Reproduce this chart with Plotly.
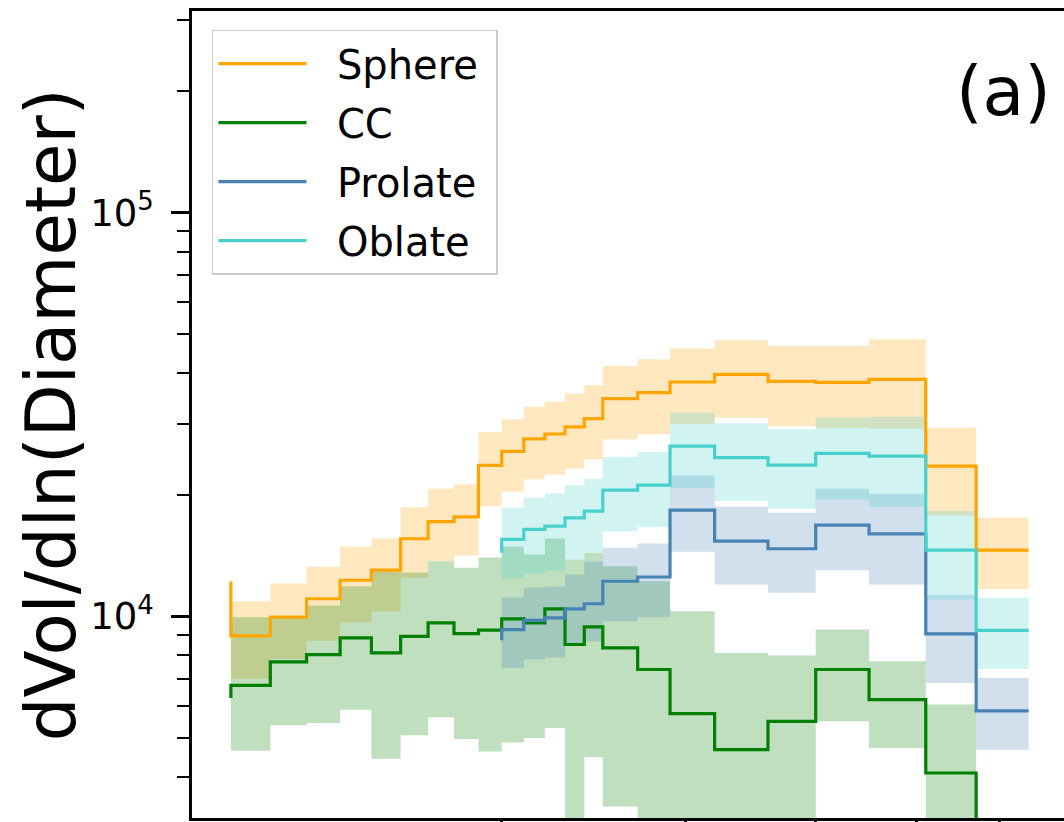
import plotly.graph_objects as go

# bin edges (diameter, log axis) - step 'pre' positions
x_edges = [1.1, 1.2, 1.3, 1.4, 1.5, 1.6, 1.7, 1.8, 1.9, 2.0, 2.1, 2.2, 2.3, 2.4, 2.5,
           2.7, 2.9, 3.2, 3.6, 4.0, 4.5, 5.1, 5.7, 6.4]

sphere = [12200, 8940, 9950, 11050, 12280, 13010, 15560, 17150, 17640, 23650, 25620, 27520,
          28290, 29480, 30880, 34630, 35840, 38070, 39780, 38220, 38000, 38660, 23560, 14580]
sphere_hi = [14780, 10890, 12050, 13260, 14860, 15590, 18640, 20710, 21220, 28570, 30760, 33070,
             34030, 35630, 37360, 41720, 43350, 46070, 48310, 46770, 46770, 48590, 29340, 17540]
sphere_lo = [9810, 6990, 7850, 8700, 9660, 10290, 12450, 13690, 14150, 18720, 20390, 21840,
             22470, 23210, 24480, 27440, 28240, 29900, 31060, 29610, 29340, 29140, 17770, 11680]

cc = [6275, 6740, 7710, 8030, 8840, 8110, 8920, 9630, 9060, 9240, 9850, 9630,
      10430, 8510, 9410, 8350, 7380, 5735, 4670, 5490, 7380, 6215, 4088, 2500]
cc_hi = [9000, 9950, 9980, 10630, 11870, 12910, 12840, 13690, 13190, 13980, 14890, 14230,
         15590, 13820, 14370, 13310, 12210, 10290, 8110, 7990, 9270, 7730, 6040, 2800]
cc_lo = [5000, 4643, 5365, 5440, 5868, 4436, 5068, 5616, 4963, 4624, 4867, 4993,
         5285, 2500, 4479, 3378, 2500, 2500, 2500, 2500, 5490, 4715, 2500, 2000]

# Prolate / Oblate start at x_edges[9]
prolate = [8720, 9270, 9770, 9910, 10430, 10740, 12210, 12510, 18320, 15350, 14700, 16820,
           16010, 9040, 5830]
prolate_hi = [10500, 11130, 11780, 11850, 12690, 13670, 14780, 15150, 22340, 18680, 18050,
              20710, 20120, 11270, 7034]
prolate_lo = [6966, 7447, 7810, 7900, 8510, 8654, 9720, 9940, 14450, 11980, 11430, 13010,
              11980, 6834, 4670]

oblate = [14370, 15500, 16410, 16720, 17540, 18220, 20540, 21130, 26410, 24720, 23690, 25330,
          24950, 14580, 9230]
oblate_hi = [17000, 18580, 19670, 20160, 21130, 21920, 24800, 25520, 31960, 30070, 29060,
             31060, 31230, 18220, 11110]
oblate_lo = [12000, 12400, 12760, 12990, 13820, 14390, 16250, 16630, 20830, 19290, 18470,
             19480, 18680, 11000, 7405]

x_ticks = [2, 3, 4, 5, 6]
y_major = [1e4, 1e5]
y_major_text = ["10<sup>4</sup>", "10<sup>5</sup>"]
y_minor = [4000, 5000, 6000, 7000, 8000, 9000, 20000, 30000, 40000, 50000, 60000, 70000,
           80000, 90000, 200000, 300000]

series = [
    ("Sphere", x_edges, sphere, sphere_lo, sphere_hi, "#FFA500", "rgba(255,165,0,0.25)"),
    ("CC", x_edges, cc, cc_lo, cc_hi, "#008000", "rgba(0,128,0,0.25)"),
    ("Prolate", x_edges[9:], prolate, prolate_lo, prolate_hi, "#4682B4", "rgba(70,130,180,0.25)"),
    ("Oblate", x_edges[9:], oblate, oblate_lo, oblate_hi, "#48D1CC", "rgba(72,209,204,0.25)"),
]

NB = "\u00a0"

fig = go.Figure()
for name, xs, ys, lo, hi, col, fcol in series:
    fig.add_trace(go.Scatter(x=xs, y=lo, mode="lines", line=dict(width=0, shape="vh"),
                             showlegend=False, hoverinfo="skip", legendgroup=name))
    fig.add_trace(go.Scatter(x=xs, y=hi, mode="lines", line=dict(width=0, shape="vh"),
                             fill="tonexty", fillcolor=fcol, showlegend=False,
                             hoverinfo="skip", legendgroup=name))
for name, xs, ys, lo, hi, col, fcol in series:
    fig.add_trace(go.Scatter(x=xs, y=ys, mode="lines", name=NB * 2 + name + NB,
                             legendgroup=name, line=dict(color=col, width=3.2, shape="vh")))

fig.update_layout(
    width=1064, height=822,
    margin=dict(l=192, r=0, t=11, b=4, autoexpand=False),
    plot_bgcolor="white", paper_bgcolor="white",
    font=dict(family="DejaVu Sans", color="black"),
    legend=dict(x=0.0229, y=0.977, xanchor="left", yanchor="top",
                bgcolor="rgba(255,255,255,0.85)", bordercolor="#CCCCCC", borderwidth=1.5,
                font=dict(size=40, family="DejaVu Sans"), itemwidth=88, tracegroupgap=4),
    xaxis=dict(type="log", range=[0.0041, 0.8401], showline=True, linecolor="black",
               linewidth=2.5, mirror=True, ticks="outside", tickvals=x_ticks, ticklen=18,
               tickwidth=2.5, tickcolor="black", showticklabels=False, showgrid=False,
               zeroline=False, automargin=False),
    yaxis=dict(type="log", range=[3.5, 5.5], showline=True, linecolor="black",
               linewidth=2.5, mirror=False, ticks="outside", tickvals=y_major,
               ticktext=y_major_text, ticklen=18, tickwidth=2.5, tickcolor="black",
               tickfont=dict(size=37, family="DejaVu Sans"), showgrid=False, zeroline=False,
               ticklabelstandoff=10, automargin=False,
               minor=dict(tickvals=y_minor, ticklen=12, tickwidth=2.2, ticks="outside",
                          tickcolor="black", showgrid=False)),
    annotations=[
        dict(text="dVol/dln(Diameter)", textangle=-90, x=-0.162, y=0.5, xref="paper",
             yref="paper", xanchor="center", yanchor="middle", showarrow=False,
             font=dict(size=69, family="DejaVu Sans")),
        dict(text="(a)", x=0.931, y=0.9, xref="paper", yref="paper", xanchor="center",
             yanchor="middle", showarrow=False, font=dict(size=68, family="DejaVu Sans")),
    ],
)

fig.write_html("out.html", config={"displayModeBar": False},
               post_script="document.body.style.margin='0';document.body.style.overflow='hidden';")
